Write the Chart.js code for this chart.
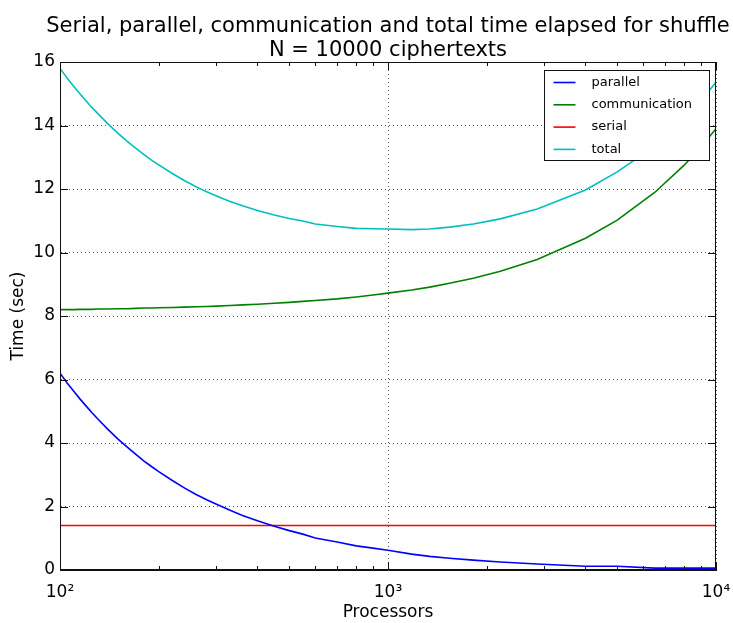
<!DOCTYPE html>
<html>
<head>
<meta charset="utf-8">
<script src="https://cdn.jsdelivr.net/npm/chart.js@4.4.1/dist/chart.umd.min.js"></script>
<style>
  html, body { margin: 0; padding: 0; background: #fff; }
  #wrap { width: 733px; height: 623px; }
</style>
</head>
<body>
<div id="wrap"><canvas id="shuffleChart" width="733" height="623"></canvas></div>
<script>
// values
const processors = [100, 105, 110, 115, 120, 125, 130, 140, 150, 160, 170, 180, 190, 200, 220, 240, 260, 280, 300, 330,
  360, 400, 450, 500, 550, 600, 700, 800, 900, 1000, 1180, 1340, 1540, 1820, 2200, 2850, 4000, 5000, 6500, 8000, 9000, 10000];
const parallelTime = [6.20, 5.90, 5.64, 5.39, 5.17, 4.96, 4.77, 4.43, 4.13, 3.88, 3.65, 3.44, 3.26, 3.10, 2.82, 2.58, 2.38, 2.21, 2.07, 1.88,
  1.72, 1.55, 1.38, 1.24, 1.13, 1.01, 0.88, 0.76, 0.69, 0.62, 0.50, 0.43, 0.37, 0.31, 0.25, 0.19, 0.12, 0.12, 0.06, 0.06, 0.06, 0.06];
const communicationTime = [8.20, 8.20, 8.20, 8.21, 8.21, 8.21, 8.22, 8.22, 8.23, 8.23, 8.24, 8.25, 8.25, 8.26, 8.27, 8.28, 8.29, 8.30, 8.31, 8.33,
  8.35, 8.37, 8.40, 8.43, 8.46, 8.49, 8.54, 8.60, 8.66, 8.72, 8.82, 8.91, 9.03, 9.19, 9.41, 9.78, 10.45, 11.02, 11.89, 12.75, 13.33, 13.90];
const serialProcs = [100, 10000];
const serialTime = [1.4, 1.4];
const totalTime = [15.80, 15.50, 15.24, 15.00, 14.78, 14.57, 14.39, 14.05, 13.76, 13.51, 13.29, 13.09, 12.91, 12.76, 12.49, 12.26, 12.07, 11.91, 11.78, 11.61,
  11.47, 11.32, 11.18, 11.07, 10.99, 10.90, 10.82, 10.76, 10.75, 10.74, 10.72, 10.74, 10.80, 10.90, 11.06, 11.37, 11.97, 12.54, 13.35, 14.21, 14.79, 15.36];

const xMajorTicks = [100, 1000, 10000];
const xTickLabels = { 100: '10²', 1000: '10³', 10000: '10⁴' };
const xMinorTicks = [200, 300, 400, 500, 600, 700, 800, 900, 2000, 3000, 4000, 5000, 6000, 7000, 8000, 9000];
const titleLines = ['Serial, parallel, communication and total time elapsed for shuffle', 'N = 10000 ciphertexts'];

const FONT = '"DejaVu Sans", sans-serif';

const pts = (xs, ys) => xs.map((v, i) => ({ x: v, y: ys[i] }));

const seriesList = [
  { label: 'parallel', data: pts(processors, parallelTime), color: '#0000ff' },
  { label: 'communication', data: pts(processors, communicationTime), color: '#008000' },
  { label: 'serial', data: pts(serialProcs, serialTime), color: '#ff0000' },
  { label: 'total', data: pts(processors, totalTime), color: '#00bfbf' }
];

// frame, inward ticks, legend box and title, matplotlib style
const framePlugin = {
  id: 'frame',
  afterDraw(chart) {
    const { ctx, chartArea: a, scales: { x, y } } = chart;
    ctx.save();
    ctx.strokeStyle = '#111';
    ctx.lineWidth = 1;
    ctx.strokeRect(Math.round(a.left) + 0.5, Math.round(a.top) + 0.5,
      Math.round(a.right - a.left) - 1, Math.round(a.bottom - a.top) - 1);

    const tick = (x1, y1, x2, y2) => { ctx.beginPath(); ctx.moveTo(x1, y1); ctx.lineTo(x2, y2); ctx.stroke(); };
    xMajorTicks.concat(xMinorTicks).forEach(v => {
      const px = Math.round(x.getPixelForValue(v)) + 0.5;
      const len = xMajorTicks.includes(v) ? 8 : 4;
      tick(px, a.bottom, px, a.bottom - len);
      tick(px, a.top, px, a.top + len);
    });
    y.ticks.forEach(t => {
      const py = Math.round(y.getPixelForValue(t.value)) + 0.5;
      tick(a.left, py, a.left + 8, py);
      tick(a.right, py, a.right - 8, py);
    });

    // legend
    const bx = Math.round(a.right) - 172 + 0.5, by = Math.round(a.top) + 8 + 0.5;
    ctx.fillStyle = '#fff';
    ctx.fillRect(bx, by, 165, 90);
    ctx.strokeRect(bx, by, 165, 90);
    ctx.font = '13px ' + FONT;
    ctx.textBaseline = 'middle';
    ctx.textAlign = 'left';
    seriesList.forEach((s, i) => {
      const ry = by + 12 + i * 22.3;
      ctx.strokeStyle = s.color;
      ctx.lineWidth = 1.6;
      tick(bx + 9, ry, bx + 31, ry);
      ctx.fillStyle = '#000';
      ctx.fillText(s.label, bx + 47, ry);
    });

    // title
    const cx = (a.left + a.right) / 2;
    ctx.font = '21px ' + FONT;
    ctx.textAlign = 'center';
    ctx.textBaseline = 'alphabetic';
    ctx.fillStyle = '#000';
    ctx.fillText(titleLines[0], cx, 32);
    ctx.fillText(titleLines[1], cx, 56);
    ctx.restore();
  }
};

new Chart(document.getElementById('shuffleChart'), {
  type: 'line',
  data: {
    datasets: seriesList.map(s => ({
      label: s.label,
      data: s.data,
      borderColor: s.color,
      backgroundColor: s.color,
      borderWidth: 1.6,
      pointRadius: 0,
      tension: 0,
      fill: false
    }))
  },
  options: {
    responsive: false,
    animation: false,
    devicePixelRatio: 1,
    layout: { padding: { top: 62, right: 17, left: 0, bottom: 0 } },
    plugins: {
      legend: { display: false },
      title: { display: false },
      tooltip: { enabled: false }
    },
    scales: {
      x: {
        type: 'logarithmic',
        min: 100,
        max: 10000,
        afterBuildTicks: scale => { scale.ticks = xMajorTicks.map(v => ({ value: v })); },
        afterFit: scale => { scale.height = 53; scale.paddingLeft = 0; scale.paddingRight = 0; },
        ticks: {
          autoSkip: false,
          maxRotation: 0,
          padding: 12,
          color: '#000',
          font: { family: FONT, size: 17 },
          callback: v => xTickLabels[v] || ''
        },
        grid: { color: '#555', lineWidth: 1, drawTicks: false },
        border: { display: true, color: '#111', width: 1, dash: [1, 3] },
        title: { display: true, text: 'Processors', color: '#000', font: { family: FONT, size: 17 }, padding: { top: -2, bottom: 0 } }
      },
      y: {
        min: 0,
        max: 16,
        afterFit: scale => { scale.width = 60; scale.paddingTop = 0; scale.paddingBottom = 0; },
        ticks: {
          stepSize: 2,
          padding: 5,
          color: '#000',
          font: { family: FONT, size: 17 }
        },
        grid: { color: '#555', lineWidth: 1, drawTicks: false },
        border: { display: true, color: '#111', width: 1, dash: [1, 3] },
        title: { display: true, text: 'Time (sec)', color: '#000', font: { family: FONT, size: 17 }, padding: { top: 8, bottom: 0 } }
      }
    }
  },
  plugins: [framePlugin]
});
</script>
</body>
</html>
